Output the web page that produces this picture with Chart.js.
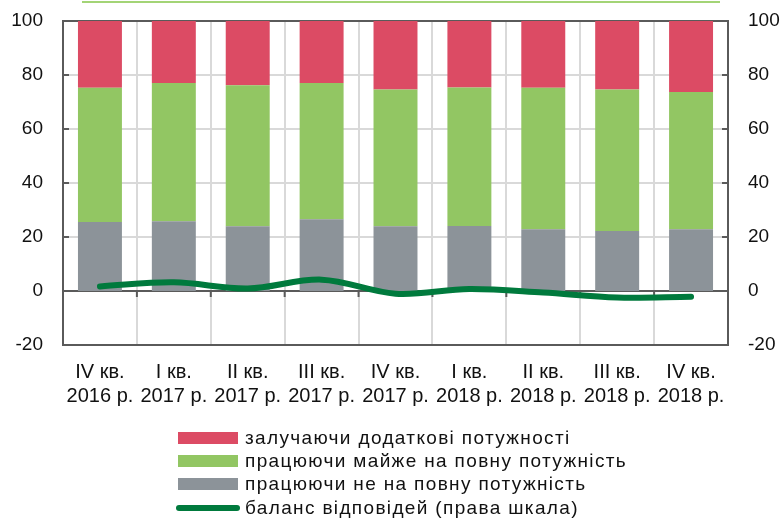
<!DOCTYPE html>
<html>
<head>
<meta charset="utf-8">
<script src="https://cdn.jsdelivr.net/npm/chart.js@4.4.1/dist/chart.umd.min.js"></script>
<style>
  html, body { margin: 0; padding: 0; background: #fff; }
  body { width: 783px; height: 520px; position: relative; overflow: hidden; font-family: "Liberation Sans", Arial, sans-serif; }
  #wrap { position: absolute; left: 0; top: 0; width: 783px; height: 420px; }
  #topline { position: absolute; left: 82px; top: 1px; width: 638px; height: 2px; background: #a3d476; }
  #legend { position: absolute; left: 0; top: 0; width: 783px; height: 520px; pointer-events: none; }
  .row { position: absolute; left: 176px; display: flex; align-items: center; height: 22px; }
  .sw { width: 60px; height: 12px; margin-left: 2px; margin-right: 7px; }
  .ln { width: 64px; height: 6px; border-radius: 3px; margin-right: 5px; }
  .tx { font-size: 19px; color: #111; letter-spacing: 1.35px; white-space: nowrap; }
</style>
</head>
<body>
<div id="topline"></div>
<div id="wrap"><canvas id="c" width="783" height="420"></canvas></div>
<div id="legend"></div>
<script>
const categories = [
  ["IV кв.", "2016 р."], ["I кв.", "2017 р."], ["II кв.", "2017 р."], ["III кв.", "2017 р."],
  ["IV кв.", "2017 р."], ["I кв.", "2018 р."], ["II кв.", "2018 р."], ["III кв.", "2018 р."], ["IV кв.", "2018 р."]
];
const notFull   = [25.6, 25.8, 24.0, 26.6, 24.0, 24.1, 22.9, 22.2, 22.9];
const nearFull  = [49.7, 51.2, 52.2, 50.4, 50.6, 51.3, 52.4, 52.4, 50.8];
const addCap    = [24.7, 23.0, 23.8, 23.0, 25.4, 24.6, 24.7, 25.4, 26.3];
const balance   = [1.7, 3.2, 0.9, 4.2, -1.0, 0.7, -0.6, -2.4, -2.1];
const yTicks    = [-20, 0, 20, 40, 60, 80, 100];

const labels = {
  addCap: "залучаючи додаткові потужності",
  nearFull: "працюючи майже на повну потужність",
  notFull: "працюючи не на повну потужність",
  balance: "баланс відповідей (права шкала)"
};
const colors = { addCap: "#dc4b64", nearFull: "#92c663", notFull: "#8c9399", balance: "#007a3d" };
const dark = "#5a5a5a", light = "#d9d9d9";

const gridPlugin = {
  id: "gridAndTicks",
  beforeDatasetsDraw(chart) {
    const ctx = chart.ctx, y = chart.scales.y, x = chart.scales.x, a = chart.chartArea;
    ctx.save();
    ctx.lineWidth = 2;
    ctx.strokeStyle = light;
    yTicks.forEach(v => {
      if (v === 0 || v === 100 || v === -20) return;
      const py = y.getPixelForValue(v);
      ctx.beginPath(); ctx.moveTo(a.left, py); ctx.lineTo(a.right, py); ctx.stroke();
    });
    ctx.strokeStyle = dark;
    yTicks.forEach(v => {
      const py = y.getPixelForValue(v);
      ctx.beginPath(); ctx.moveTo(a.left, py); ctx.lineTo(a.left + 6, py); ctx.stroke();
      ctx.beginPath(); ctx.moveTo(a.right, py); ctx.lineTo(a.right - 6, py); ctx.stroke();
    });
    const y0 = y.getPixelForValue(0);
    ctx.beginPath(); ctx.moveTo(a.left, y0); ctx.lineTo(a.right, y0); ctx.stroke();
    const yTop = y.getPixelForValue(100);
    ctx.beginPath(); ctx.moveTo(a.left, yTop); ctx.lineTo(a.right, yTop); ctx.stroke();
    for (let i = 1; i < categories.length; i++) {
      const px = (x.getPixelForValue(i - 1) + x.getPixelForValue(i)) / 2;
      ctx.beginPath(); ctx.moveTo(px, y0); ctx.lineTo(px, y0 + 6); ctx.stroke();
    }
    ctx.restore();
  }
};

const yCommon = {
  min: -20, max: 100,
  ticks: { stepSize: 20, font: { family: "Liberation Sans", size: 19 }, color: "#111", padding: 20 },
};

new Chart(document.getElementById("c"), {
  data: {
    labels: categories,
    datasets: [
      { type: "line", label: labels.balance, data: balance, yAxisID: "y2", borderColor: colors.balance,
        borderWidth: 6, pointRadius: 0, tension: 0.35, borderCapStyle: "round", borderJoinStyle: "round", order: 0 },
      { type: "bar", label: labels.notFull, data: notFull, backgroundColor: colors.notFull, stack: "s", order: 1,
        barPercentage: 0.595, categoryPercentage: 1 },
      { type: "bar", label: labels.nearFull, data: nearFull, backgroundColor: colors.nearFull, stack: "s", order: 1,
        barPercentage: 0.595, categoryPercentage: 1 },
      { type: "bar", label: labels.addCap, data: addCap, backgroundColor: colors.addCap, stack: "s", order: 1,
        barPercentage: 0.595, categoryPercentage: 1 }
    ]
  },
  options: {
    responsive: false, animation: false,
    layout: { padding: { top: 21, bottom: 5, left: 0, right: 0 } },
    plugins: { legend: { display: false }, tooltip: { enabled: false } },
    scales: {
      x: {
        stacked: true, offset: true,
        grid: { color: light, lineWidth: 2, drawTicks: false, offset: true },
        border: { color: dark, width: 2 },
        ticks: { font: { family: "Liberation Sans", size: 20, lineHeight: 1.2 }, color: "#111", padding: 15, maxRotation: 0, autoSkip: false },
        afterFit: s => { s.height = 70; }
      },
      y: Object.assign({}, yCommon, {
        position: "left", stacked: true,
        grid: { display: false, drawTicks: false },
        border: { color: dark, width: 2 },
        afterFit: s => { s.width = 63; s.paddingTop = 0; s.paddingBottom = 0; }
      }),
      y2: Object.assign({}, yCommon, {
        position: "right",
        grid: { display: false, drawTicks: false },
        border: { color: dark, width: 2 },
        afterFit: s => { s.width = 55; s.paddingTop = 0; s.paddingBottom = 0; }
      })
    }
  },
  plugins: [gridPlugin]
});

const leg = document.getElementById("legend");
[["addCap", 427], ["nearFull", 450], ["notFull", 473], ["balance", 497]].forEach(([k, top]) => {
  const r = document.createElement("div");
  r.className = "row"; r.style.top = top + "px";
  const s = document.createElement("div");
  s.className = k === "balance" ? "ln" : "sw";
  s.style.background = colors[k];
  const t = document.createElement("span");
  t.className = "tx"; t.textContent = labels[k];
  r.appendChild(s); r.appendChild(t); leg.appendChild(r);
});
</script>
</body>
</html>
